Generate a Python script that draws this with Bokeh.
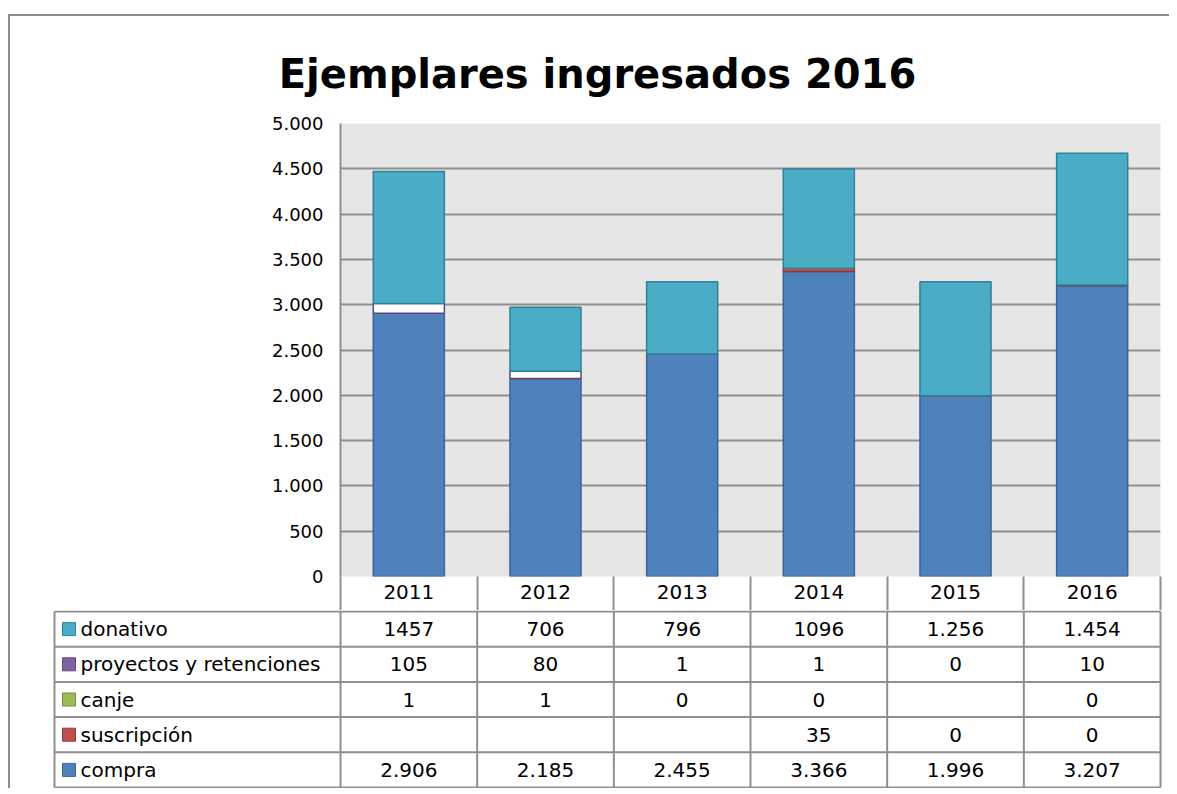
from bokeh.plotting import figure
from bokeh.layouts import column
from bokeh.models import Range1d, FixedTicker, LinearAxis, ColumnDataSource
from bokeh.core.properties import value
from bokeh.embed import file_html
from bokeh.resources import INLINE

# ---------------- data ----------------
title_text = "Ejemplares ingresados 2016"
years = ["2011", "2012", "2013", "2014", "2015", "2016"]
compra = [2906, 2185, 2455, 3366, 1996, 3207]
suscripcion = [None, None, None, 35, 0, 0]
canje = [1, 1, 0, 0, None, 0]
proyectos = [105, 80, 1, 1, 0, 10]
donativo = [1457, 706, 796, 1096, 1256, 1454]
donativo_txt = ["1457", "706", "796", "1096", "1.256", "1.454"]
y_ticks = [0, 500, 1000, 1500, 2000, 2500, 3000, 3500, 4000, 4500, 5000]
y_tick_labels = ["0", "500", "1.000", "1.500", "2.000", "2.500", "3.000",
                 "3.500", "4.000", "4.500", "5.000"]

# ---------------- styles ----------------
FONT = "DejaVu Sans"
GRID = "#8f8f8f"
fills = {"compra": "#4f81bd", "suscripcion": "#c0504d", "canje": "#9bbb59",
         "proyectos": "#8064a2", "donativo": "#4bacc6"}
lines = {"compra": "#3b6597", "suscripcion": "#913c3a", "canje": "#728c40",
         "proyectos": "#5e4a7a", "donativo": "#2f8199"}
bar_fills = dict(fills, proyectos="#ffffff")


def fmt(v):
    if v is None:
        return ""
    if v >= 1000:
        return f"{v:,}".replace(",", ".")
    return str(v)


def z(vals):
    return [0 if v is None else v for v in vals]


ncol = len(years)
centers = [i + 0.5 for i in range(ncol)]

# ---------------- title figure ----------------
W = 1159
pt = figure(width=W, height=84, x_range=Range1d(10, 10 + W), y_range=Range1d(100, 16),
            min_border=0, toolbar_location=None, output_backend="svg",
            x_axis_location=None, y_axis_location=None, outline_line_color=None,
            frame_align=False)
pt.grid.grid_line_color = None
pt.text(x=[597], y=[73], text=[title_text], text_font=value(FONT), text_font_style="bold",
        text_font_size="40px", text_align="center", text_baseline="alphabetic",
        text_color="black")

# ---------------- chart figure ----------------
keys = ["compra", "suscripcion", "canje", "proyectos", "donativo"]
src = ColumnDataSource(dict(x=centers, compra=z(compra), suscripcion=z(suscripcion),
                            canje=z(canje), proyectos=z(proyectos), donativo=z(donativo)))

pa = figure(width=W, height=510, x_range=Range1d(0, ncol),
            y_range=Range1d(0, 5000), min_border_left=330, min_border_right=9,
            min_border_top=23, min_border_bottom=34, toolbar_location=None,
            output_backend="svg", x_axis_location=None, outline_line_color=None,
            background_fill_color="#e6e6e6", frame_align=False)
pa.xgrid.grid_line_color = None
pa.ygrid.grid_line_color = GRID
pa.ygrid.grid_line_width = 2
pa.ygrid.ticker = FixedTicker(ticks=y_ticks)

pa.vbar_stack(keys, x="x", width=0.52, source=src,
              fill_color=[bar_fills[k] for k in keys],
              line_color=[lines[k] for k in keys], line_width=1.5)

ya = pa.yaxis[0]
ya.ticker = FixedTicker(ticks=y_ticks)
ya.major_label_overrides = {t: l for t, l in zip(y_ticks, y_tick_labels)}
ya.major_tick_out = 0
ya.major_tick_in = 0
ya.minor_tick_out = 0
ya.minor_tick_in = 0
ya.axis_line_color = GRID
ya.axis_line_width = 2
ya.major_label_standoff = 17
ya.major_label_text_font = FONT
ya.major_label_text_font_size = "18px"
ya.major_label_text_color = "black"

# header row (years) drawn by an axis: labels at column centres, cell borders as minor ticks
xa = LinearAxis(ticker=FixedTicker(ticks=centers, minor_ticks=list(range(ncol + 1))),
                major_label_overrides={c: y for c, y in zip(centers, years)},
                major_tick_out=0, major_tick_in=0,
                minor_tick_out=34, minor_tick_in=0,
                minor_tick_line_color=GRID, minor_tick_line_width=2,
                axis_line_color=None, major_label_standoff=-26,
                major_label_text_font=FONT, major_label_text_font_size="20px",
                major_label_text_color="black")
pa.add_layout(xa, "below")

# ---------------- table figure ----------------
ppu = 820 / ncol
x0 = -330 / ppu
x1 = ncol + 9 / ppu
label_left = -286 / ppu
sq_x = (68.5 - 340) / ppu
lab_x = (80 - 340) / ppu
rh = 35.2
ytop = 1
HB = 178

pb = figure(width=W, height=HB, x_range=Range1d(x0, x1), y_range=Range1d(HB, 0),
            min_border=0, toolbar_location=None, output_backend="svg",
            x_axis_location=None, y_axis_location=None, outline_line_color=None,
            frame_align=False)
pb.grid.grid_line_color = None

rows = [("donativo", "donativo", donativo_txt),
        ("proyectos", "proyectos y retenciones", [fmt(v) for v in proyectos]),
        ("canje", "canje", [fmt(v) for v in canje]),
        ("suscripcion", "suscripción", [fmt(v) for v in suscripcion]),
        ("compra", "compra", [fmt(v) for v in compra])]

nrows = len(rows)
hy = [ytop + rh * k for k in range(nrows + 1)]
pb.segment(x0=[label_left] * len(hy), x1=[ncol] * len(hy), y0=hy, y1=hy,
           line_color=GRID, line_width=2)
vx = [label_left] + list(range(ncol + 1))
pb.segment(x0=vx, x1=vx, y0=[hy[0]] * len(vx), y1=[hy[-1]] * len(vx),
           line_color=GRID, line_width=2)

rc = [ytop + rh * (k + 0.5) for k in range(nrows)]
pb.rect(x=[sq_x] * nrows, y=rc, width=13, height=13, width_units="screen",
        height_units="screen", fill_color=[fills[r[0]] for r in rows],
        line_color=[lines[r[0]] for r in rows], line_width=1)
pb.text(x=[lab_x] * nrows, y=rc, text=[r[1] for r in rows], text_font=value(FONT),
        text_font_size="20px", text_align="left", text_baseline="middle",
        text_color="black")

cx, cy, ct = [], [], []
for k, r in enumerate(rows):
    for i, t in enumerate(r[2]):
        cx.append(i + 0.5)
        cy.append(rc[k])
        ct.append(t)
pb.text(x=cx, y=cy, text=ct, text_font=value(FONT), text_font_size="20px",
        text_align="center", text_baseline="middle", text_color="black")

layout = column(pt, pa, pb, spacing=0,
                styles={"border-left": "2px solid #8c8c8c",
                        "border-top": "2px solid #8c8c8c",
                        "margin-top": "14px", "margin-left": "8px"})

open("out.html", "w").write(file_html(layout, INLINE))
